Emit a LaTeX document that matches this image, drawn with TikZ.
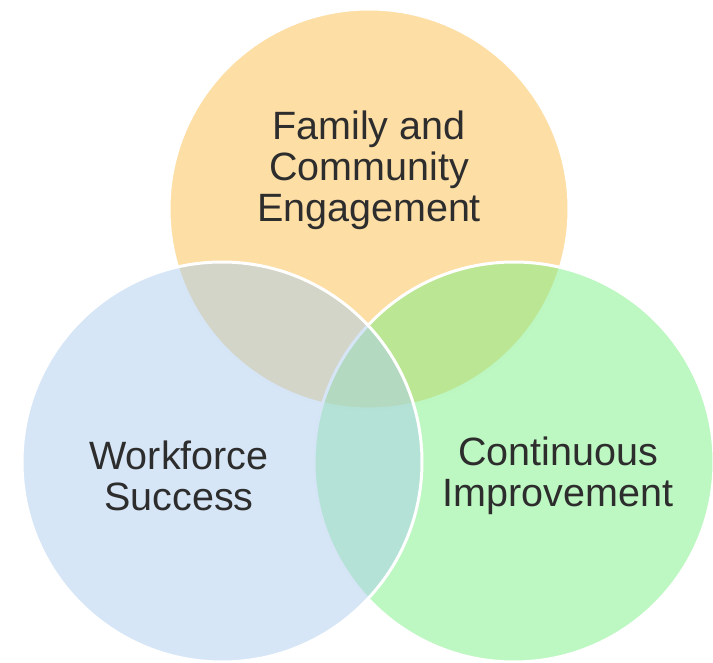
\documentclass[tikz,border=0pt]{standalone}
\usepackage{fontspec}
\setmainfont{Liberation Sans}
\usepackage{xcolor}
\usepackage{tikz}
\usetikzlibrary{positioning}

\definecolor{famorange}{RGB}{253,222,165}
\definecolor{ciGreen}{RGB}{123,239,131}
\definecolor{wfBlue}{RGB}{173,205,237}
\definecolor{labelgray}{RGB}{45,45,45}

\begin{document}
\begin{tikzpicture}[
    x=1pt, y=-1pt,
    ring/.style={circle, minimum size=400pt, inner sep=0pt, draw=white, line width=3pt},
    label/.style={font=\fontsize{39.5}{41}\selectfont, text=labelgray, align=center},
]
\useasboundingbox (0,0) rectangle (713,663);

% Circles (orange first, then green and blue blended over it)
\node[ring, fill=famorange] (family) at (369,209) {};
\node[ring, fill=ciGreen, fill opacity=0.5] (improve) at (514,462) {};
\node[ring, fill=wfBlue, fill opacity=0.5] (workforce) at (222,462) {};

% Labels
\node[label] (familytxt) at (369,170) {Family and\\Community\\Engagement};
\node[label] (workforcetxt) at (179,476) {Workforce\\Success};
\node[label] (improvetxt) at (558,476) {Continuous\\Improvement};

\end{tikzpicture}
\end{document}
